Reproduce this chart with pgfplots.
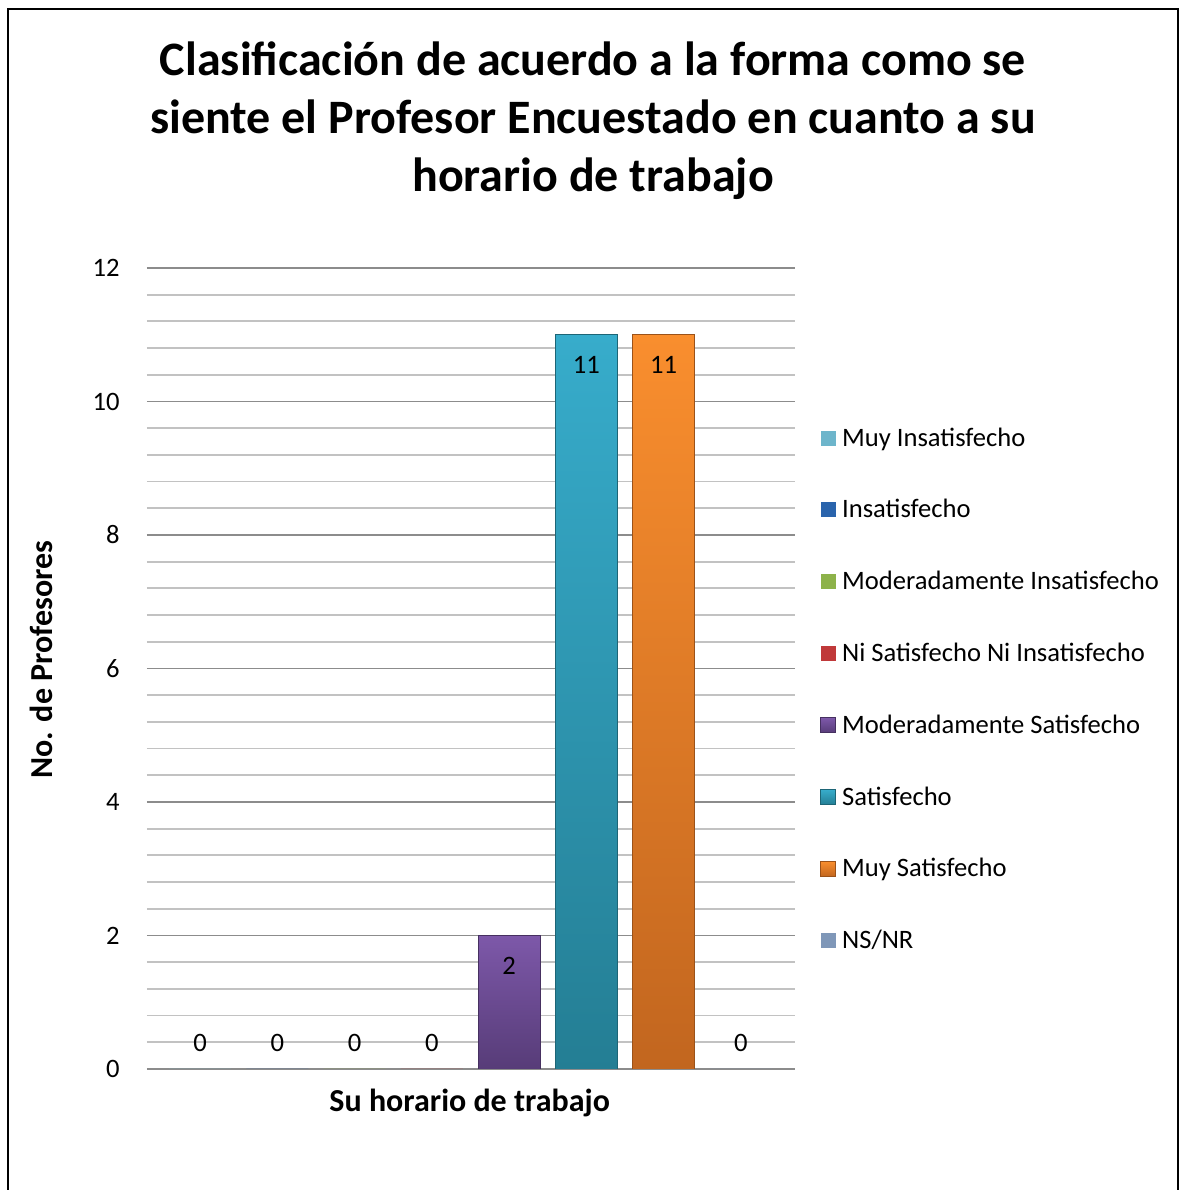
\documentclass[border=0pt]{standalone}
\usepackage{pgfplots}
\pgfplotsset{compat=1.18}
\usepackage{fontspec}
\setmainfont{Carlito}
\definecolor{gridmaj}{HTML}{8C8C8C}
\definecolor{gridmin}{HTML}{C2C2C2}
\definecolor{cMI}{HTML}{6DB5CB}
\definecolor{cIN}{HTML}{2A64AC}
\definecolor{cMoI}{HTML}{8DB24A}
\definecolor{cNi}{HTML}{C0393A}
\definecolor{purTop}{HTML}{7D58A9}
\definecolor{purBot}{HTML}{573C78}
\definecolor{tealTop}{HTML}{37ACCB}
\definecolor{tealBot}{HTML}{247E94}
\definecolor{orTop}{HTML}{F98E2E}
\definecolor{orBot}{HTML}{C2661F}
\definecolor{cNS}{HTML}{7F97B8}
\newcommand{\fs}{\fontsize{13.3}{16}\selectfont}
\newcommand{\fl}{\fontsize{16}{19}\selectfont}
\begin{document}
\begin{tikzpicture}
\useasboundingbox (0,0) rectangle (589.5pt,595pt);
\draw[line width=1pt] (4pt,-1pt) -- (4pt,590.5pt) -- (589pt,590.5pt) -- (589pt,-1pt);
\node[font=\fontsize{24}{29}\selectfont\bfseries, align=center] at (296.5pt,534.5pt)
 {Clasificación de acuerdo a la forma como se\\siente el Profesor Encuestado en cuanto a su\\horario de trabajo};
\begin{axis}[
  at={(73.5pt,60.5pt)}, anchor=south west,
  scale only axis, width=324pt, height=400.5pt,
  xmin=0.314, xmax=8.699, ymin=0, ymax=12,
  ytick={0,2,...,12}, minor y tick num=4,
  ymajorgrids, yminorgrids,
  major grid style={draw=gridmaj, line width=0.9pt},
  minor grid style={draw=gridmin, line width=0.9pt},
  xtick=\empty,
  axis line style={draw=none},
  tick style={draw=none},
  ybar, bar width=31pt,
  nodes near coords, point meta=y,
  nodes near coords style={font=\fs, text=black},
  /pgf/number format/assume math mode=true,
  ticklabel style={font=\fs},
  yticklabel style={inner sep=0pt, xshift=-13.5pt},
  ylabel={No. de Profesores},
  ylabel style={font=\fl\bfseries, at={(axis description cs:-0.1636,0.511)}, anchor=center},
  xlabel={Su horario de trabajo},
  xlabel style={font=\fl\bfseries, at={(axis description cs:0.498,-0.0424)}, anchor=center},
  legend style={at={(axis description cs:1.0385,0.8018)}, anchor=north west, draw=none, fill=none,
    inner sep=0pt, row sep=23.9pt, column sep=3pt, font=\fs,
    nodes={inner sep=0pt, text height=9.5pt, text depth=2.5pt}},
  legend cell align=left,
  legend image code/.code={\fill[#1] (0pt,-3.25pt) rectangle (7.5pt,4.25pt);},
]
\addplot[fill=cMI, draw=none, bar shift=0pt, nodes near coords style={anchor=center, yshift=13pt}] coordinates {(1,0)};
\addlegendentry{Muy Insatisfecho}
\addplot[fill=cIN, draw=none, bar shift=0pt, nodes near coords style={anchor=center, yshift=13pt}] coordinates {(2,0)};
\addlegendentry{Insatisfecho}
\addplot[fill=cMoI, draw=none, bar shift=0pt, nodes near coords style={anchor=center, yshift=13pt}] coordinates {(3,0)};
\addlegendentry{Moderadamente Insatisfecho}
\addplot[fill=cNi, draw=none, bar shift=0pt, nodes near coords style={anchor=center, yshift=13pt}] coordinates {(4,0)};
\addlegendentry{Ni Satisfecho Ni Insatisfecho}
\addplot[top color=purTop, bottom color=purBot, draw=purBot!80!black, bar shift=0pt, nodes near coords style={anchor=center, yshift=-15pt}] coordinates {(5,2)};
\addlegendentry{Moderadamente Satisfecho}
\addplot[top color=tealTop, bottom color=tealBot, draw=tealBot!80!black, bar shift=0pt, nodes near coords style={anchor=center, yshift=-15pt}] coordinates {(6,11)};
\addlegendentry{Satisfecho}
\addplot[top color=orTop, bottom color=orBot, draw=orBot!80!black, bar shift=0pt, nodes near coords style={anchor=center, yshift=-15pt}] coordinates {(7,11)};
\addlegendentry{Muy Satisfecho}
\addplot[fill=cNS, draw=none, bar shift=0pt, nodes near coords style={anchor=center, yshift=13pt}] coordinates {(8,0)};
\addlegendentry{NS/NR}
\end{axis}
\end{tikzpicture}
\end{document}
